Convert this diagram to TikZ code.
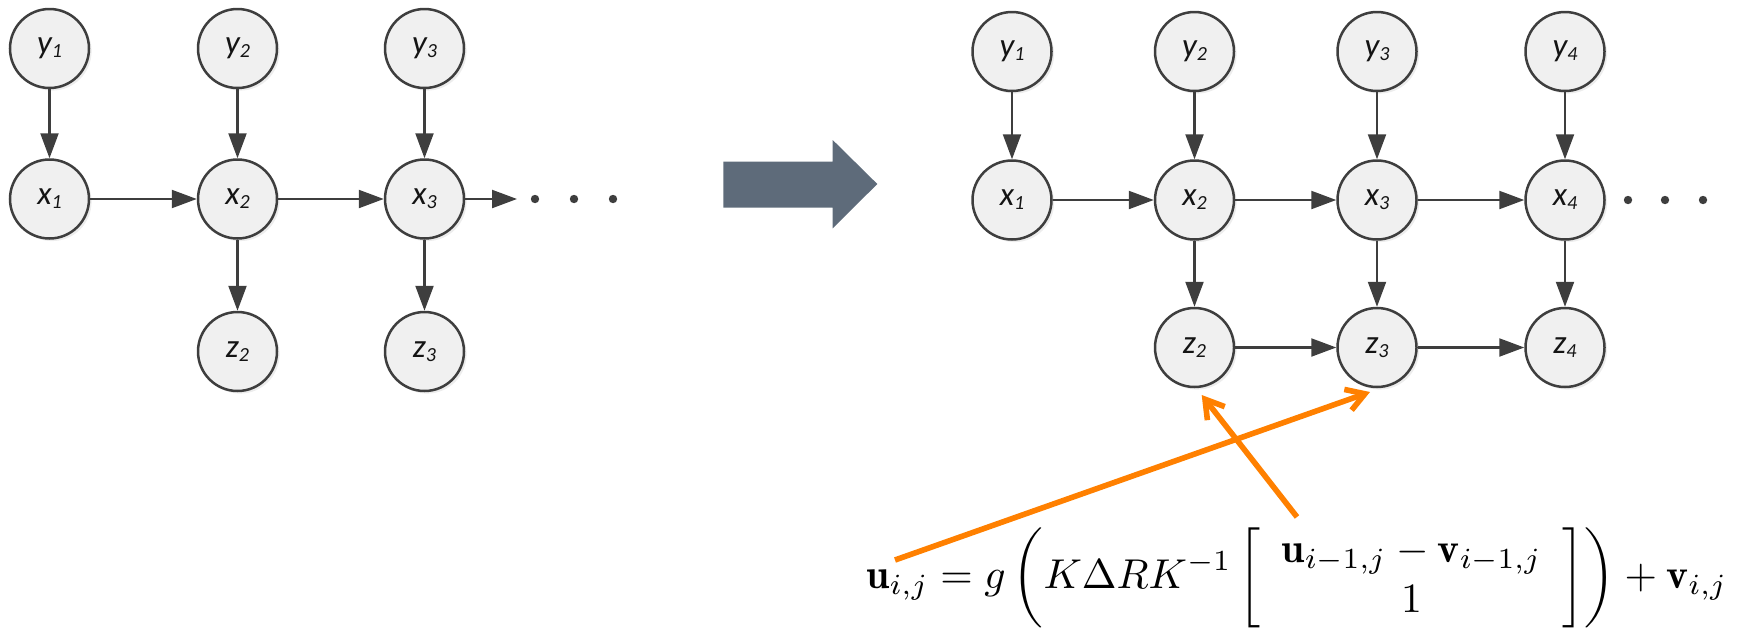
\documentclass[tikz,border=0pt]{standalone}
\usepackage{fontspec}
\usepackage{graphicx}
\newfontfamily\nodefont{Carlito}
\usetikzlibrary{arrows.meta,shadows,calc}
\definecolor{nodeline}{RGB}{62,62,62}
\definecolor{nodefill}{RGB}{240,240,240}
\definecolor{bigarrow}{RGB}{94,107,122}
\definecolor{orangeline}{RGB}{255,128,0}
\definecolor{labeltext}{RGB}{20,20,20}
\newcommand{\lbl}[2]{{\nodefont\itshape\fontsize{16.5}{18}\selectfont #1\raisebox{-2pt}{\fontsize{10}{11}\selectfont #2}}}
\begin{document}
\begin{tikzpicture}[x=0.5pt,y=-0.5pt,
  gnode/.style={circle, draw=nodeline, line width=1.25pt, fill=nodefill,
    minimum size=39.5pt, inner sep=0pt, text=labeltext,
    drop shadow={shadow xshift=1.3pt, shadow yshift=-1.3pt, fill=black!14}},
  conn/.style={draw=nodeline, line width=1.1pt, -{Triangle[length=12.5pt,width=9pt]}},
  dotnode/.style={circle, fill=nodeline, inner sep=0pt, minimum size=4.2pt},
  orangearrow/.style={draw=orangeline, line width=2.8pt, -{Straight Barb[length=9pt,width=11pt]}},
  bigarrowstyle/.style={fill=bigarrow, draw=none}
]
\useasboundingbox (0,0) rectangle (1740,627);

% ---------------- left graph ----------------
\node[gnode] (ly1) at (49.5,48.5) {\lbl{y}{1}};
\node[gnode] (ly2) at (237.5,48.5) {\lbl{y}{2}};
\node[gnode] (ly3) at (424.5,48.5) {\lbl{y}{3}};
\node[gnode] (lx1) at (49.5,199) {\lbl{x}{1}};
\node[gnode] (lx2) at (237.5,199) {\lbl{x}{2}};
\node[gnode] (lx3) at (424.5,199) {\lbl{x}{3}};
\node[gnode] (lz2) at (237.5,351.5) {\lbl{z}{2}};
\node[gnode] (lz3) at (424.5,351.5) {\lbl{z}{3}};
\coordinate (lend) at (517,199);
\node[dotnode] (ld1) at (535,199) {};
\node[dotnode] (ld2) at (574,199) {};
\node[dotnode] (ld3) at (613,199) {};

\draw[conn] (ly1) -- (lx1);
\draw[conn] (ly2) -- (lx2);
\draw[conn] (ly3) -- (lx3);
\draw[conn] (lx1) -- (lx2);
\draw[conn] (lx2) -- (lx3);
\draw[conn] (lx3) -- (lend);
\draw[conn] (lx2) -- (lz2);
\draw[conn] (lx3) -- (lz3);

% ---------------- big arrow ----------------
\fill[bigarrowstyle] (723.3,161.7) -- (832.7,161.7) -- (832.7,140) -- (877.3,184)
  -- (832.7,228.3) -- (832.7,207.7) -- (723.3,207.7) -- cycle;

% ---------------- right graph ----------------
\node[gnode] (ry1) at (1012,51.5) {\lbl{y}{1}};
\node[gnode] (ry2) at (1194.5,51.5) {\lbl{y}{2}};
\node[gnode] (ry3) at (1377,51.5) {\lbl{y}{3}};
\node[gnode] (ry4) at (1565,51.5) {\lbl{y}{4}};
\node[gnode] (rx1) at (1012,200) {\lbl{x}{1}};
\node[gnode] (rx2) at (1194.5,200) {\lbl{x}{2}};
\node[gnode] (rx3) at (1377,200) {\lbl{x}{3}};
\node[gnode] (rx4) at (1565,200) {\lbl{x}{4}};
\node[gnode] (rz2) at (1194.5,347.5) {\lbl{z}{2}};
\node[gnode] (rz3) at (1377,347.5) {\lbl{z}{3}};
\node[gnode] (rz4) at (1565,347.5) {\lbl{z}{4}};
\node[dotnode] (rd1) at (1628,200) {};
\node[dotnode] (rd2) at (1665,200) {};
\node[dotnode] (rd3) at (1703,200) {};

\draw[conn] (ry1) -- (rx1);
\draw[conn] (ry2) -- (rx2);
\draw[conn] (ry3) -- (rx3);
\draw[conn] (ry4) -- (rx4);
\draw[conn] (rx1) -- (rx2);
\draw[conn] (rx2) -- (rx3);
\draw[conn] (rx3) -- (rx4);
\draw[conn] (rx2) -- (rz2);
\draw[conn] (rx3) -- (rz3);
\draw[conn] (rx4) -- (rz4);
\draw[conn] (rz2) -- (rz3);
\draw[conn] (rz3) -- (rz4);

% ---------------- formula ----------------
\node[anchor=base west, inner sep=0pt] (eq) at (866,588)
  {\resizebox{430.5pt}{!}{$\displaystyle \mathbf{u}_{i,j} = g\left(K\Delta R K^{-1}\left[\begin{array}{c}\mathbf{u}_{i-1,j}-\mathbf{v}_{i-1,j}\\ 1\end{array}\right]\right)+\mathbf{v}_{i,j}$}};

% ---------------- orange arrows ----------------
\coordinate (o1s) at (895,560);
\coordinate (o2s) at (1297,517);
\draw[orangearrow] (o1s) -- ($(rz3.center)+(-7,44.5)$);
\draw[orangearrow] (o2s) -- ($(rz2.center)+(7.2,47.5)$);
\end{tikzpicture}
\end{document}
